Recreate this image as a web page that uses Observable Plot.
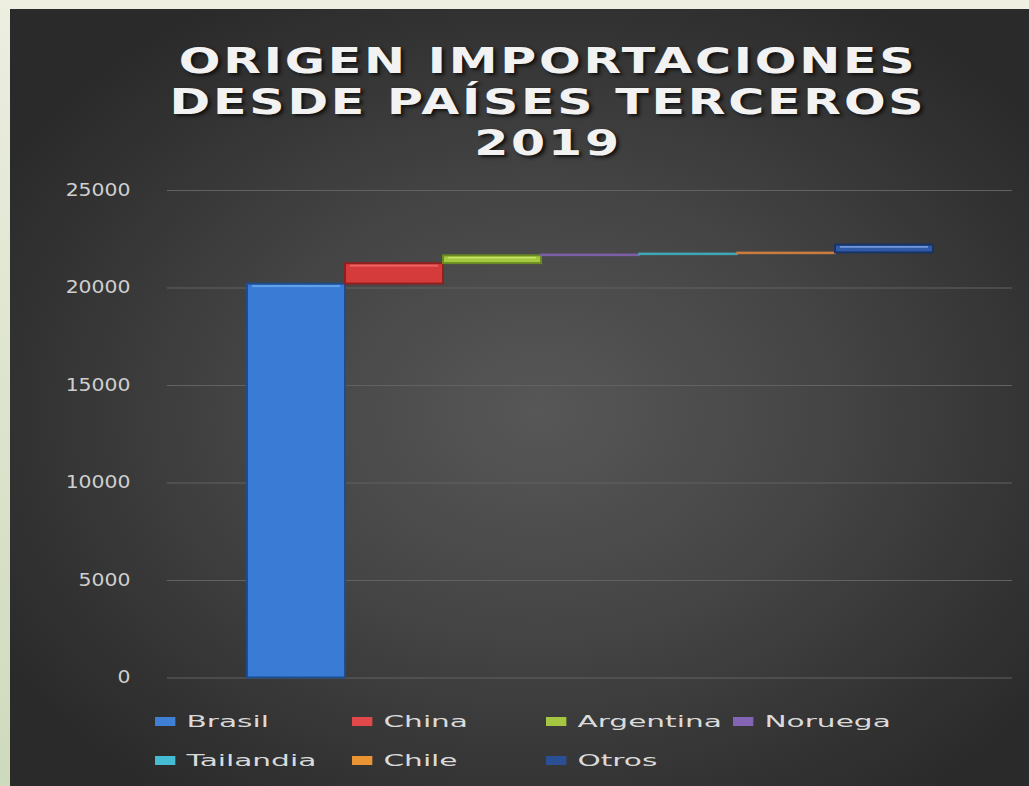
<!DOCTYPE html>
<html><head><meta charset="utf-8">
<script src="https://cdn.jsdelivr.net/npm/d3@7"></script>
<script src="https://cdn.jsdelivr.net/npm/@observablehq/plot@0.6"></script>
<style>
html,body{margin:0;padding:0;width:1029px;height:786px;overflow:hidden;background:#eeeee1;}
#strip{position:absolute;left:0;top:9px;width:10px;height:777px;background:linear-gradient(#eceee0,#cedabc);}
#panel{position:absolute;left:10px;top:9px;width:1019px;height:777px;overflow:hidden;
  background:radial-gradient(ellipse 62% 62% at 52% 52%, #575757 0%, #454545 45%, #333 80%, #2a2a2a 100%);
  font-family:"DejaVu Sans",sans-serif;}
#title{position:relative;height:161px;box-sizing:border-box;padding-top:32px;padding-left:57px;
  text-align:center;color:#f2f2f2;font-weight:bold;font-size:35px;line-height:41px;letter-spacing:2px;
  transform:scaleX(1.4);transform-origin:538px 0;text-shadow:2px 2px 3px #111;}
#chart{position:relative;height:530px;}
#legend{position:relative;height:86px;}
.li{position:absolute;display:flex;align-items:center;transform:scaleX(1.85);transform-origin:0 50%;
  color:#dadada;font-size:16px;white-space:nowrap;}
.sw{display:inline-block;width:11px;height:9px;margin-right:6px;}
</style></head>
<body>
<div id="strip"></div>
<div id="panel">
  <div id="title">ORIGEN IMPORTACIONES<br>DESDE PAÍSES TERCEROS<br>2019</div>
  <div id="chart"></div>
  <div id="legend"></div>
</div>
<script>
const categories = ["Brasil","China","Argentina","Noruega","Tailandia","Chile","Otros"];
const values = [20200, 1050, 400, 50, 50, 50, 400];
const fillColors = ["#3a7bd5","#d63b3b","#a4c83f","#7d5fa8","#3fa6b6","#c97c3d","#2f5aa8"];
const edgeColors = ["#1f4c8a","#8e2020","#6a8a22","#7d5fa8","#3fa6b6","#c97c3d","#1a3366"];
const lightColors = ["#6fb0f2","#f27070","#d4ec7a","#9c82c4","#6cc8d6","#e0a070","#8fb0ee"];
const legendColors = ["#3f7fd4","#e0484a","#a4c640","#8464b4","#45bcd4","#eb9434","#2b4f94"];
const yTicks = [0, 5000, 10000, 15000, 20000, 25000];

let acc = 0;
const rows = categories.map((name, i) => {
  const start = acc; acc += values[i];
  return {name, value: values[i], start, end: acc, fill: fillColors[i], edge: edgeColors[i], light: lightColors[i]};
});
const thick = rows.filter(d => d.value > 300);

const chart = Plot.plot({
  width: 1019, height: 530,
  marginLeft: 157, marginRight: 17, marginTop: 20, marginBottom: 22.5,
  style: {background: "transparent", color: "#d0d0d0", fontFamily: "DejaVu Sans, sans-serif", fontSize: "17px"},
  x: {domain: categories, paddingInner: 0, paddingOuter: 0.77, axis: null},
  y: {domain: [0, 25000], axis: null},
  color: {type: "identity"},
  marks: [
    Plot.gridY(yTicks, {stroke: "#626262", strokeOpacity: 1, strokeWidth: 1}),
    Plot.axisY(yTicks, {tickSize: 0, tickPadding: 37, fill: "#cfcfcf", fontSize: 17, tickFormat: d => String(d), label: null}),
    Plot.barY(rows, {x: "name", y1: "start", y2: "end", fill: "fill", stroke: "edge", strokeWidth: d => d.value > 300 ? 2 : 1.6}),
    Plot.barY(thick, {x: "name", y1: d => d.end - Math.min(d.value * 0.4, 180), y2: "end", fill: "light", fillOpacity: 0.75, insetLeft: 5, insetRight: 5, insetTop: 1.5})
  ]
});
document.getElementById("chart").appendChild(chart);

// horizontally widen the y tick labels, keeping their right edge fixed
d3.select(chart).selectAll('g[aria-label="y-axis tick label"] text').each(function() {
  const t = d3.select(this);
  const tr = this.getAttribute("transform");
  if (tr) t.attr("transform", tr + " scale(1.2,1)");
  else {
    const x = +this.getAttribute("x") || 0, y = +this.getAttribute("y") || 0;
    t.attr("x", null).attr("y", null).attr("transform", `translate(${x},${y}) scale(1.2,1)`);
  }
});

// legend
const legendPos = [[145,0],[342,0],[536,0],[723,0],[145,1],[342,1],[536,1]];
const legend = d3.select("#legend");
categories.forEach((c, i) => {
  const [lx, row] = legendPos[i];
  const item = legend.append("div").attr("class", "li")
    .style("left", lx + "px").style("top", (row === 0 ? 9 : 48) + "px")
    .style("height", "24px");
  item.append("span").attr("class", "sw").style("background", legendColors[i]);
  item.append("span").text(c);
});
</script>
</body></html>
